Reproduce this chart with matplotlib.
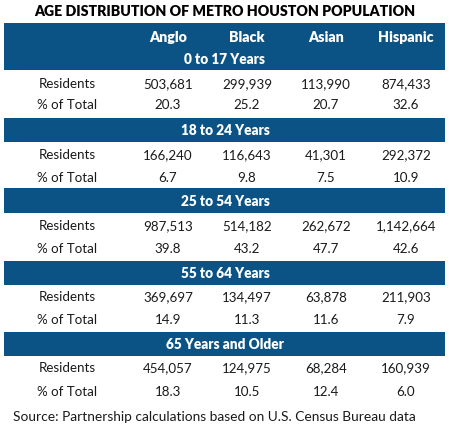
import matplotlib.pyplot as plt
from matplotlib.patches import Rectangle

races = ['Anglo', 'Black', 'Asian', 'Hispanic']
age_groups = ['0 to 17 Years', '18 to 24 Years', '25 to 54 Years',
              '55 to 64 Years', '65 Years and Older']
residents = [
    [503681, 299939, 113990, 874433],
    [166240, 116643, 41301, 292372],
    [987513, 514182, 262672, 1142664],
    [369697, 134497, 63878, 211903],
    [454057, 124975, 68284, 160939],
]
pct_total = [
    [20.3, 25.2, 20.7, 32.6],
    [6.7, 9.8, 7.5, 10.9],
    [39.8, 43.2, 47.7, 42.6],
    [14.9, 11.3, 11.6, 7.9],
    [18.3, 10.5, 12.4, 6.0],
]

title = 'AGE DISTRIBUTION OF METRO HOUSTON POPULATION'
source = 'Source: Partnership calculations based on U.S. Census Bureau data'

blue = '#0b5385'
txt = '#1a1a1a'


def main():
    plt.rcParams['font.family'] = ['Lato', 'DejaVu Sans']
    fig = plt.figure(figsize=(4.52, 4.31), dpi=100)
    ax = fig.add_axes([0, 0, 1, 1])
    ax.set_xlim(0, 452)
    ax.set_ylim(431, 0)
    ax.axis('off')

    col_x = [168, 247, 326, 406]
    label_x = 67
    left, right = 4, 445

    ax.text(225, 12, title, ha='center', va='center', fontsize=10.2,
            fontweight='heavy', color='black')

    # band tops and heights
    band_top = [23.5, 119, 189, 262, 333]
    band_h = [47, 23.5, 24.5, 23.5, 23.5]
    row_y = [(84, 105), (155, 178), (226, 249), (297, 320), (368, 392)]

    for i, grp in enumerate(age_groups):
        ax.add_patch(Rectangle((left, band_top[i]), right - left, band_h[i],
                               color=blue, lw=0))
        gy = band_top[i] + band_h[i] - 11.5
        ax.text(225, gy, grp, ha='center', va='center', fontsize=9.8,
                fontweight='heavy', color='white')
        ry, py = row_y[i]
        ax.text(label_x, ry, 'Residents', ha='center', va='center',
                fontsize=9.6, color=txt)
        ax.text(label_x, py, '% of Total', ha='center', va='center',
                fontsize=9.6, color=txt)
        for j in range(len(races)):
            ax.text(col_x[j], ry, f'{residents[i][j]:,}', ha='center',
                    va='center', fontsize=9.6, color=txt)
            ax.text(col_x[j], py, f'{pct_total[i][j]:.1f}', ha='center',
                    va='center', fontsize=9.6, color=txt)

    for j, r in enumerate(races):
        ax.text(col_x[j], 37, r, ha='center', va='center', fontsize=10.3,
                fontweight='heavy', color='white')

    ax.text(13, 417, source, ha='left', va='center', fontsize=9.9, color=txt)

    fig.savefig('out.png', dpi=100)


if __name__ == '__main__':
    main()
